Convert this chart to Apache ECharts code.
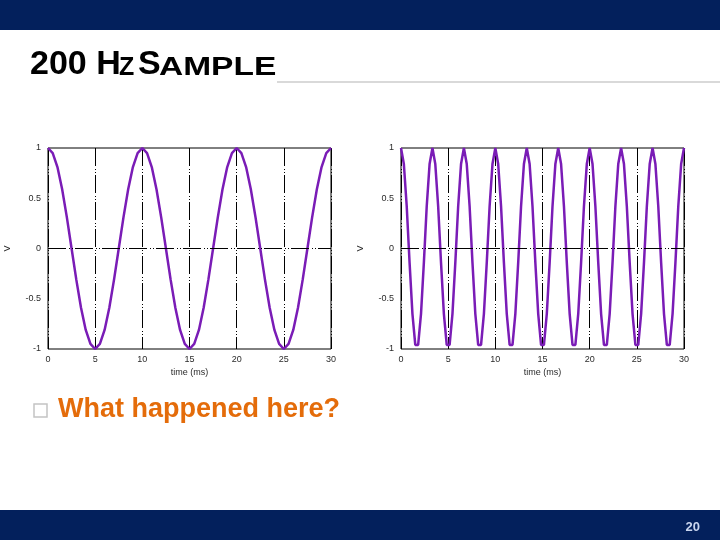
<!DOCTYPE html>
<html>
<head>
<meta charset="utf-8">
<script src="https://cdn.jsdelivr.net/npm/echarts@6/dist/echarts.min.js"></script>
<style>
html,body{margin:0;padding:0;background:#fff;}
#main{width:720px;height:540px;}
</style>
</head>
<body>
<div id="main"></div>
<script>
// ---- data ----
const X_TICKS = [0, 5, 10, 15, 20, 25, 30];
const Y_TICKS = [-1, -0.5, 0, 0.5, 1];

// left panel: smooth 100 Hz cosine, points every 0.5 ms
const LEFT_T = [0,0.5,1,1.5,2,2.5,3,3.5,4,4.5,5,5.5,6,6.5,7,7.5,8,8.5,9,9.5,
  10,10.5,11,11.5,12,12.5,13,13.5,14,14.5,15,15.5,16,16.5,17,17.5,18,18.5,19,19.5,
  20,20.5,21,21.5,22,22.5,23,23.5,24,24.5,25,25.5,26,26.5,27,27.5,28,28.5,29,29.5,30];
const LEFT_V = [1,0.95,0.81,0.59,0.31,0,-0.31,-0.59,-0.81,-0.95,-1,-0.95,-0.81,-0.59,-0.31,0,0.31,0.59,0.81,0.95,
  1,0.95,0.81,0.59,0.31,0,-0.31,-0.59,-0.81,-0.95,-1,-0.95,-0.81,-0.59,-0.31,0,0.31,0.59,0.81,0.95,
  1,0.95,0.81,0.59,0.31,0,-0.31,-0.59,-0.81,-0.95,-1,-0.95,-0.81,-0.59,-0.31,0,0.31,0.59,0.81,0.95,
  1];

// right panel: coarsely sampled fast wave
const RIGHT_T = [0,0.303,0.606,0.909,1.212,1.515,1.818,2.121,2.424,2.727,
  3.030,3.333,3.636,3.939,4.242,4.545,4.848,5.152,5.455,5.758,
  6.061,6.364,6.667,6.970,7.273,7.576,7.879,8.182,8.485,8.788,
  9.091,9.394,9.697,10.000,10.303,10.606,10.909,11.212,11.515,11.818,
  12.121,12.424,12.727,13.030,13.333,13.636,13.939,14.242,14.545,14.848,
  15.152,15.455,15.758,16.061,16.364,16.667,16.970,17.273,17.576,17.879,
  18.182,18.485,18.788,19.091,19.394,19.697,20.000,20.303,20.606,20.909,
  21.212,21.515,21.818,22.121,22.424,22.727,23.030,23.333,23.636,23.939,
  24.242,24.545,24.848,25.152,25.455,25.758,26.061,26.364,26.667,26.970,
  27.273,27.576,27.879,28.182,28.485,28.788,29.091,29.394,29.697,30.000];
const RIGHT_V = [1,0.84,0.42,-0.14,-0.65,-0.96,-0.96,-0.65,-0.14,0.42,0.84,
  1,0.84,0.42,-0.14,-0.65,-0.96,-0.96,-0.65,-0.14,0.42,0.84,
  1,0.84,0.42,-0.14,-0.65,-0.96,-0.96,-0.65,-0.14,0.42,0.84,
  1,0.84,0.42,-0.14,-0.65,-0.96,-0.96,-0.65,-0.14,0.42,0.84,
  1,0.84,0.42,-0.14,-0.65,-0.96,-0.96,-0.65,-0.14,0.42,0.84,
  1,0.84,0.42,-0.14,-0.65,-0.96,-0.96,-0.65,-0.14,0.42,0.84,
  1,0.84,0.42,-0.14,-0.65,-0.96,-0.96,-0.65,-0.14,0.42,0.84,
  1,0.84,0.42,-0.14,-0.65,-0.96,-0.96,-0.65,-0.14,0.42,0.84,
  1,0.84,0.42,-0.14,-0.65,-0.96,-0.96,-0.65,-0.14,0.42,0.84,
  1];

const X_NAME = 'time (ms)';
const Y_NAME = 'V';

// ---- chart ----
const chart = echarts.init(document.getElementById('main'), null, {renderer: 'canvas'});
const LINE_COLOR = '#7a1cb6';
const GRID_DASH = [18, 3, 1, 2, 1, 2];
const LABEL_FONT = {fontFamily: 'Liberation Sans', fontSize: 9, color: '#2a2a2a'};

function xAxisFor(i) {
  return {
    type: 'value', gridIndex: i,
    min: X_TICKS[0], max: X_TICKS[X_TICKS.length - 1], interval: X_TICKS[1] - X_TICKS[0],
    name: X_NAME, nameLocation: 'middle', nameGap: 19,
    nameTextStyle: LABEL_FONT,
    axisLine: {show: false}, axisTick: {show: false},
    axisLabel: Object.assign({margin: 6}, LABEL_FONT),
    splitLine: {show: true, lineStyle: {color: '#000', width: 1, type: GRID_DASH}}
  };
}
function yAxisFor(i) {
  return {
    type: 'value', gridIndex: i,
    min: Y_TICKS[0], max: Y_TICKS[Y_TICKS.length - 1], interval: Y_TICKS[1] - Y_TICKS[0],
    name: Y_NAME, nameLocation: 'middle', nameGap: 36, nameRotate: 90,
    nameTextStyle: LABEL_FONT,
    axisLine: {show: false}, axisTick: {show: false},
    axisLabel: Object.assign({margin: 7}, LABEL_FONT),
    splitLine: {show: false}
  };
}
function zeroLine() {
  return {
    silent: true, symbol: ['none', 'none'], label: {show: false},
    lineStyle: {color: '#000', width: 1, type: GRID_DASH},
    data: [{yAxis: 0}]
  };
}
function lineSeries(i, ts, vs) {
  return {
    type: 'line', xAxisIndex: i, yAxisIndex: i,
    data: ts.map((t, k) => [t, vs[k]]),
    showSymbol: false, symbol: 'none',
    lineStyle: {color: LINE_COLOR, width: 2.5},
    markLine: zeroLine(),
    z: 3
  };
}

const option = {
  animation: false,
  backgroundColor: '#fff',
  grid: [
    {left: 48, right: 389, top: 148, bottom: 191, show: true, borderColor: '#000', borderWidth: 1, backgroundColor: 'transparent'},
    {left: 401, right: 36, top: 148, bottom: 191, show: true, borderColor: '#000', borderWidth: 1, backgroundColor: 'transparent'}
  ],
  xAxis: [xAxisFor(0), xAxisFor(1)],
  yAxis: [yAxisFor(0), yAxisFor(1)],
  series: [lineSeries(0, LEFT_T, LEFT_V), lineSeries(1, RIGHT_T, RIGHT_V)],
  graphic: [
    {type: 'rect', shape: {x: 0, y: 0, width: 720, height: 30}, style: {fill: '#03205c'}, silent: true},
    {type: 'rect', shape: {x: 0, y: 510, width: 720, height: 30}, style: {fill: '#03205c'}, silent: true},
    {type: 'text', x: 700, y: 527, style: {text: '20', font: 'bold 13px "Liberation Sans"', fill: '#c9d5ee', align: 'right', verticalAlign: 'middle'}},
    {type: 'line', shape: {x1: 277, y1: 82, x2: 720, y2: 82}, style: {stroke: '#d9d9d9', lineWidth: 2}, silent: true},
    {type: 'text', x: 30, y: 65, style: {text: '200 H', font: 'bold 34px "Liberation Sans"', fill: '#000', verticalAlign: 'middle'}},
    {type: 'text', x: 119, y: 68, style: {text: 'Z', font: 'bold 25px "Liberation Sans"', fill: '#000', verticalAlign: 'middle'}},
    {type: 'text', x: 138, y: 65, style: {text: 'S', font: 'bold 34px "Liberation Sans"', fill: '#000', verticalAlign: 'middle'}},
    {type: 'text', x: 159, y: 68, scaleX: 1.34, style: {text: 'AMPLE', font: 'bold 25px "Liberation Sans"', fill: '#000', verticalAlign: 'middle'}},
    {type: 'rect', shape: {x: 34, y: 404, width: 13, height: 13}, style: {fill: 'none', stroke: '#c4c4c4', lineWidth: 1.5}, silent: true},
    {type: 'text', x: 58, y: 410, style: {text: 'What happened here?', font: 'bold 27px "Liberation Sans"', fill: '#e46c0a', verticalAlign: 'middle'}}
  ]
};
chart.setOption(option);
</script>
</body>
</html>
